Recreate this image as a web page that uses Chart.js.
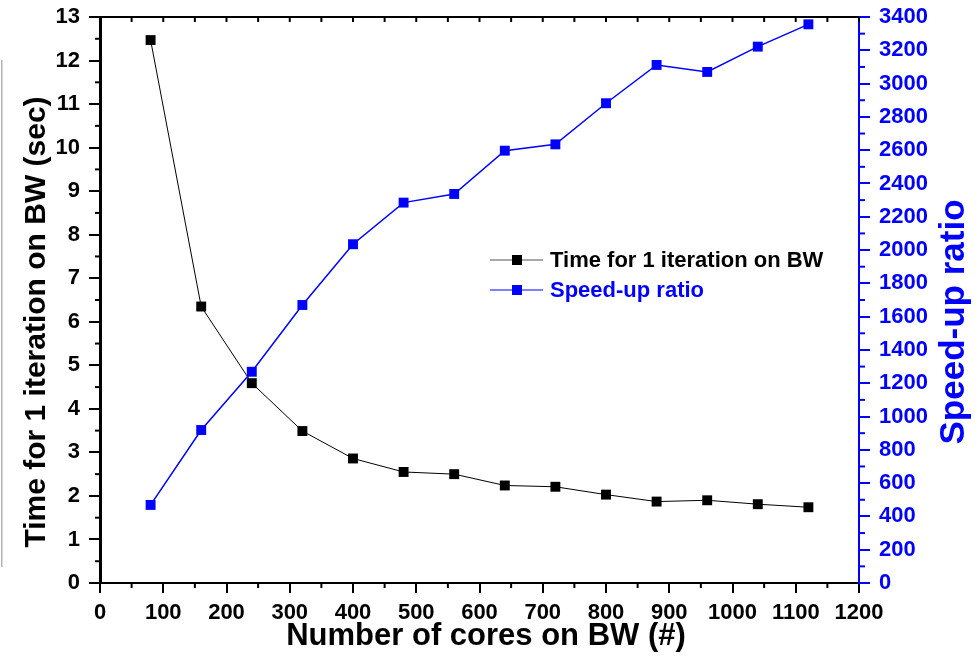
<!DOCTYPE html>
<html>
<head>
<meta charset="utf-8">
<script src="https://cdn.jsdelivr.net/npm/chart.js@4.4.0/dist/chart.umd.min.js"></script>
<style>
  html, body { margin: 0; padding: 0; background: #fff; }
  #wrap { width: 975px; height: 657px; position: relative; }
</style>
</head>
<body>
<div id="wrap"><canvas id="chart" width="975" height="657"></canvas></div>
<script>
// Values
const cores = [80, 160, 240, 320, 400, 480, 560, 640, 720, 800, 880, 960, 1040, 1120];
const timePerIter = [12.47, 6.35, 4.59, 3.49, 2.86, 2.55, 2.50, 2.24, 2.21, 2.03, 1.87, 1.90, 1.81, 1.74];
const speedup = [469, 919, 1269, 1670, 2035, 2285, 2337, 2597, 2635, 2882, 3112, 3070, 3222, 3356];

const xTicks = [0, 100, 200, 300, 400, 500, 600, 700, 800, 900, 1000, 1100, 1200];
const leftTicks = [0, 1, 2, 3, 4, 5, 6, 7, 8, 9, 10, 11, 12, 13];
const rightTicks = [0, 200, 400, 600, 800, 1000, 1200, 1400, 1600, 1800, 2000, 2200, 2400, 2600, 2800, 3000, 3200, 3400];

const seriesNames = ['Time for 1 iteration on BW', 'Speed-up ratio'];
const xTitle = 'Number of cores on BW (#)';
const leftTitle = 'Time for 1 iteration on BW (sec)';
const rightTitle = 'Speed-up ratio';

const FONT = '"Liberation Sans", Arial, sans-serif';
const BLUE = '#0000ff';

function toPoints(xs, ys) {
    return xs.map((x, i) => ({ x: x, y: ys[i] }));
}

// minor ticks, top frame line, axis titles and the legend
const extras = {
    id: 'extras',
    afterDraw(chart) {
        const ctx = chart.ctx;
        const a = chart.chartArea;
        const sx = chart.scales.x, sl = chart.scales.yLeft, sr = chart.scales.yRight;
        ctx.save();

        // faint grey edge on the left of the figure
        ctx.fillStyle = '#b4b4b4';
        ctx.fillRect(1, 60, 1.5, 507);

        // top frame line
        ctx.strokeStyle = '#000';
        ctx.lineWidth = 2;
        ctx.beginPath();
        ctx.moveTo(a.left, a.top);
        ctx.lineTo(a.right, a.top);
        ctx.stroke();

        // x minor ticks (bottom outward, top inward)
        for (let i = 0; i < xTicks.length - 1; i++) {
            const px = sx.getPixelForValue((xTicks[i] + xTicks[i + 1]) / 2);
            ctx.beginPath();
            ctx.moveTo(px, a.bottom);
            ctx.lineTo(px, a.bottom + 5);
            ctx.moveTo(px, a.top);
            ctx.lineTo(px, a.top + 5);
            ctx.stroke();
        }
        xTicks.forEach(v => {
            const px = sx.getPixelForValue(v);
            ctx.beginPath();
            ctx.moveTo(px, a.top);
            ctx.lineTo(px, a.top + 5);
            ctx.stroke();
        });

        // left minor ticks
        for (let i = 0; i < leftTicks.length - 1; i++) {
            const py = sl.getPixelForValue((leftTicks[i] + leftTicks[i + 1]) / 2);
            ctx.beginPath();
            ctx.moveTo(a.left, py);
            ctx.lineTo(a.left - 5, py);
            ctx.stroke();
        }

        // right minor ticks
        ctx.strokeStyle = BLUE;
        for (let i = 0; i < rightTicks.length - 1; i++) {
            const py = sr.getPixelForValue((rightTicks[i] + rightTicks[i + 1]) / 2);
            ctx.beginPath();
            ctx.moveTo(a.right, py);
            ctx.lineTo(a.right + 6, py);
            ctx.stroke();
        }

        // axis titles
        ctx.textAlign = 'center';
        ctx.textBaseline = 'middle';
        ctx.fillStyle = '#000';
        ctx.font = 'bold 31px ' + FONT;
        ctx.fillText(xTitle, 486, 636);

        ctx.save();
        ctx.font = 'bold 30px ' + FONT;
        ctx.translate(37, 322);
        ctx.rotate(-Math.PI / 2);
        ctx.fillText(leftTitle, 0, 0);
        ctx.restore();

        ctx.save();
        ctx.font = 'bold 35px ' + FONT;
        ctx.fillStyle = BLUE;
        ctx.translate(954, 322);
        ctx.rotate(-Math.PI / 2);
        ctx.fillText(rightTitle, 0, 0);
        ctx.restore();

        // legend
        const rows = [
            { label: seriesNames[0], line: '#555', mark: '#000', text: '#000', y: 260 },
            { label: seriesNames[1], line: BLUE, mark: BLUE, text: BLUE, y: 290 }
        ];
        ctx.font = 'bold 22px ' + FONT;
        ctx.textAlign = 'left';
        rows.forEach(r => {
            ctx.strokeStyle = r.line;
            ctx.lineWidth = 1.2;
            ctx.beginPath();
            ctx.moveTo(490, r.y);
            ctx.lineTo(543, r.y);
            ctx.stroke();
            ctx.fillStyle = r.mark;
            ctx.fillRect(512, r.y - 5, 10, 10);
            ctx.fillStyle = r.text;
            ctx.fillText(r.label, 550, r.y + 1);
        });

        ctx.restore();
    }
};

const tickFont = { family: FONT, size: 22, weight: 700 };
const plain = v => String(v);

// fixed box sizes so the plot area lands where it does in the figure
function fitY(w) {
    return s => { s.width = w; s.paddingTop = 0; s.paddingBottom = 0; };
}

const chart = new Chart(document.getElementById('chart').getContext('2d'), {
    type: 'line',
    data: {
        datasets: [
            {
                label: seriesNames[0],
                data: toPoints(cores, timePerIter),
                yAxisID: 'yLeft',
                borderColor: '#000',
                borderWidth: 1,
                pointStyle: 'rect',
                pointRadius: 7,
                pointBackgroundColor: '#000',
                pointBorderWidth: 0,
                tension: 0,
                order: 2
            },
            {
                label: seriesNames[1],
                data: toPoints(cores, speedup),
                yAxisID: 'yRight',
                borderColor: BLUE,
                borderWidth: 1.5,
                pointStyle: 'rect',
                pointRadius: 7,
                pointBackgroundColor: BLUE,
                pointBorderWidth: 0,
                tension: 0,
                order: 1
            }
        ]
    },
    options: {
        responsive: false,
        animation: false,
        layout: { padding: { left: 0, right: 0, top: 17, bottom: 0 } },
        plugins: {
            legend: { display: false },
            tooltip: { enabled: false }
        },
        scales: {
            x: {
                type: 'linear',
                min: 0,
                max: 1200,
                afterBuildTicks: s => { s.ticks = xTicks.map(v => ({ value: v })); },
                afterFit: s => { s.height = 74; s.paddingLeft = 0; s.paddingRight = 0; },
                ticks: { font: tickFont, color: '#000', padding: 7, maxRotation: 0, autoSkip: false, callback: plain },
                grid: { drawOnChartArea: false, drawTicks: true, tickLength: 10, color: '#000', lineWidth: 2 },
                border: { color: '#000', width: 2 }
            },
            yLeft: {
                type: 'linear',
                position: 'left',
                min: 0,
                max: 13,
                afterBuildTicks: s => { s.ticks = leftTicks.map(v => ({ value: v })); },
                afterFit: fitY(100),
                ticks: { font: tickFont, color: '#000', padding: 9, autoSkip: false, callback: plain },
                grid: { drawOnChartArea: false, drawTicks: true, tickLength: 11, color: '#000', lineWidth: 2 },
                border: { color: '#000', width: 3 }
            },
            yRight: {
                type: 'linear',
                position: 'right',
                min: 0,
                max: 3400,
                afterBuildTicks: s => { s.ticks = rightTicks.map(v => ({ value: v })); },
                afterFit: fitY(116),
                ticks: { font: tickFont, color: BLUE, padding: 9, autoSkip: false, callback: plain },
                grid: { drawOnChartArea: false, drawTicks: true, tickLength: 11, color: BLUE, lineWidth: 2 },
                border: { color: BLUE, width: 2 }
            }
        }
    },
    plugins: [extras]
});
</script>
</body>
</html>
